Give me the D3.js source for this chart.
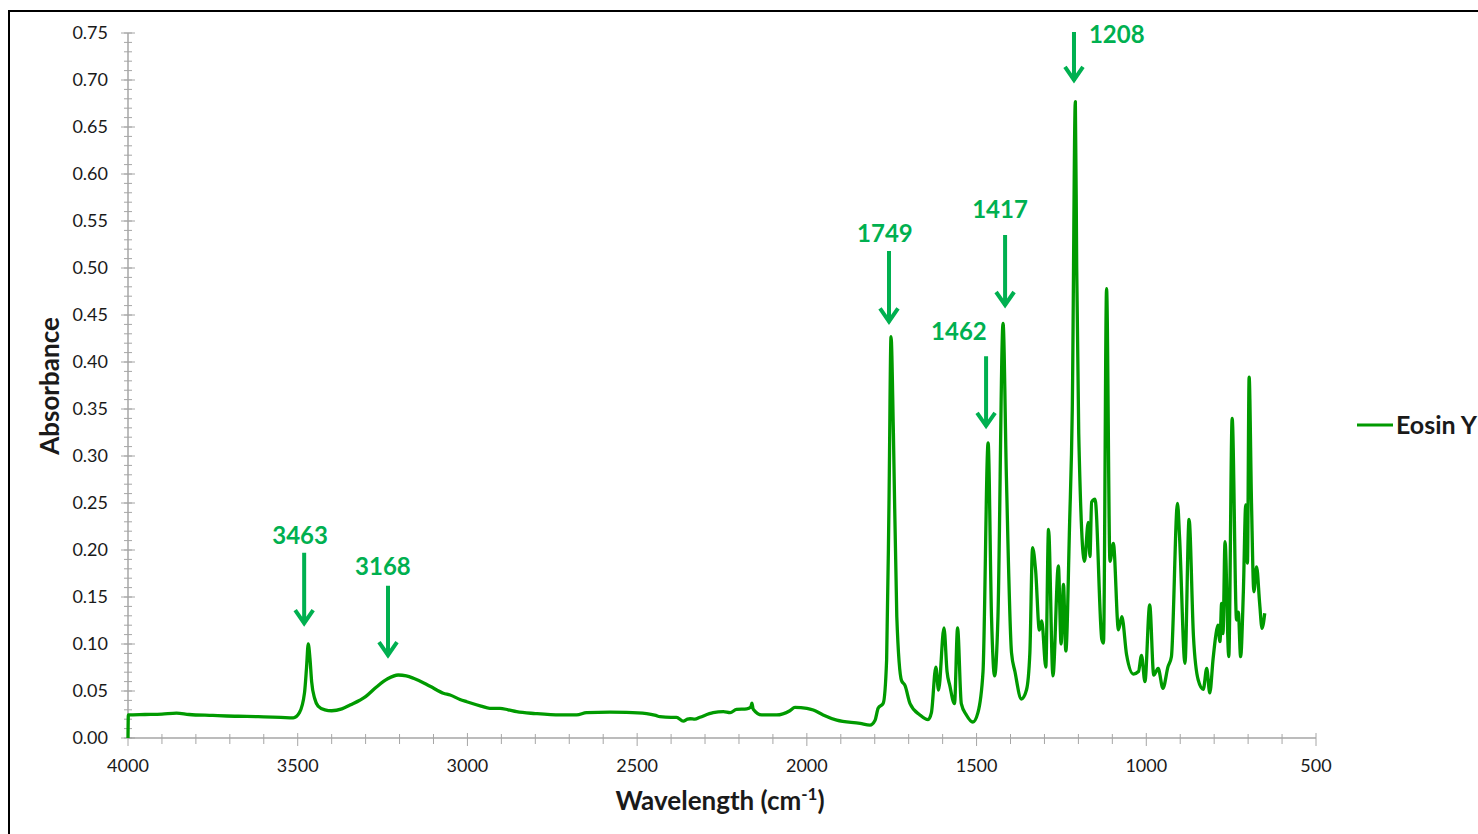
<!DOCTYPE html>
<html>
<head>
<meta charset="utf-8">
<script src="https://cdn.jsdelivr.net/npm/d3@7"></script>
<style>
  body { margin: 0; background: #ffffff; }
  text { font-family: Lato, "Open Sans", sans-serif; }
</style>
</head>
<body>
<div id="chart"></div>
<script>
// spectrum (wavenumber in cm-1, absorbance)
const wavenumbers = [
  4000, 3999, 3950, 3900, 3857, 3820, 3750, 3709, 3650, 3600, 3550, 3513, 3495, 3480, 3474, 3469,
  3464, 3459, 3450, 3440, 3420, 3400, 3370, 3346, 3300, 3267, 3235, 3204, 3180, 3159, 3110, 3071,
  3051, 3022, 3002, 2960, 2934, 2904, 2880, 2855, 2800, 2727, 2678, 2649, 2580, 2531, 2472, 2445,
  2433, 2400, 2384, 2364, 2352, 2344, 2330, 2315, 2276, 2246, 2226, 2207, 2177, 2165, 2162, 2158,
  2133, 2089, 2050, 2035, 2000, 1981, 1952, 1912, 1843, 1814, 1799, 1790, 1775, 1765, 1758, 1752,
  1745, 1735, 1721, 1711, 1696, 1667, 1643, 1633, 1620, 1612, 1596, 1587, 1579, 1565, 1556, 1545,
  1530, 1511, 1496, 1481, 1466, 1456, 1447, 1437, 1422, 1412, 1397, 1387, 1368, 1353, 1343, 1335,
  1326, 1315, 1308, 1296, 1288, 1275, 1259, 1251, 1244, 1237, 1226, 1218, 1209, 1205, 1199, 1182,
  1171, 1166, 1161, 1151, 1131, 1126, 1117, 1107, 1097, 1082, 1072, 1058, 1038, 1023, 1014, 1004,
  990, 978, 965, 951, 936, 926, 908, 902, 886, 874, 861, 847, 832, 822, 813, 803,
  795, 789, 783, 778, 774, 768, 757, 747, 734, 729, 722, 714, 707, 702, 697, 690,
  683, 675, 666, 659, 651
];
const absorbance = [
  0, 0.0245, 0.025, 0.0255, 0.0265, 0.025, 0.024, 0.0234, 0.023, 0.0225, 0.022, 0.0215, 0.027, 0.048, 0.075, 0.100,
  0.085, 0.060, 0.042, 0.034, 0.030, 0.029, 0.031, 0.035, 0.044, 0.0546, 0.063, 0.067, 0.066, 0.0635, 0.055, 0.0476,
  0.0457, 0.041, 0.0386, 0.034, 0.0316, 0.0316, 0.030, 0.028, 0.026, 0.0245, 0.0245, 0.027, 0.0275, 0.0273, 0.026, 0.024,
  0.0227, 0.022, 0.022, 0.018, 0.020, 0.0205, 0.020, 0.022, 0.027, 0.028, 0.027, 0.0305, 0.031, 0.033, 0.037, 0.0305,
  0.0245, 0.0245, 0.029, 0.0326, 0.0316, 0.0298, 0.0245, 0.019, 0.0156, 0.0138, 0.019, 0.0316, 0.037, 0.083, 0.25, 0.427,
  0.324, 0.129, 0.061, 0.056, 0.0366, 0.0245, 0.0195, 0.027, 0.0755, 0.051, 0.117, 0.0707, 0.056, 0.0366, 0.117, 0.0366,
  0.0245, 0.017, 0.027, 0.0707, 0.314, 0.129, 0.066, 0.129, 0.441, 0.276, 0.0905, 0.0707, 0.0415, 0.051, 0.0905, 0.2025,
  0.178, 0.1147, 0.1245, 0.0755, 0.222, 0.066, 0.183, 0.100, 0.1635, 0.0926, 0.227, 0.35, 0.677, 0.50, 0.324, 0.188,
  0.2294, 0.193, 0.251, 0.254, 0.105, 0.101, 0.478, 0.188, 0.207, 0.115, 0.129, 0.0885, 0.068, 0.0707, 0.088, 0.06,
  0.1415, 0.067, 0.074, 0.0529, 0.0759, 0.0865, 0.2497, 0.214, 0.0795, 0.2326, 0.108, 0.0617, 0.0518, 0.074, 0.048, 0.0848,
  0.1096, 0.12, 0.1025, 0.1433, 0.111, 0.209, 0.0865, 0.340, 0.1255, 0.134, 0.0865, 0.1556, 0.248, 0.186, 0.384, 0.2497,
  0.1556, 0.182, 0.1433, 0.1167, 0.1327
];

// peak labels and where their arrows sit
const peakLabels = ["3463", "3168", "1749", "1462", "1417", "1208"];
const arrowWn    = [3481, 3234, 1758, 1472, 1416, 1213];
const arrowTop   = [0.197, 0.162, 0.518, 0.406, 0.535, 0.751];
const arrowTip   = [0.120, 0.086, 0.441, 0.330, 0.4585, 0.698];
const labelWn    = [3493, 3249, 1770, 1552, 1431, 1087];
const labelAbs   = [0.215, 0.182, 0.537, 0.432, 0.562, 0.748];

const seriesName = "Eosin Y";
const xTickValues = [4000, 3500, 3000, 2500, 2000, 1500, 1000, 500];
const yTickValues = d3.range(0, 0.7501, 0.05);

const width = 1478;
const height = 834;
const lineColor = "#009a00";
const noteColor = "#00b050";
const axisColor = "#a6a6a6";

const svg = d3.select("#chart")
  .append("svg")
  .attr("width", width)
  .attr("height", height);

svg.append("rect")
  .attr("x", 9)
  .attr("y", 11)
  .attr("width", width)
  .attr("height", height)
  .attr("fill", "none")
  .attr("stroke", "#000")
  .attr("stroke-width", 2);

const xScale = d3.scaleLinear().domain([4000, 500]).range([128, 1316]);
const yScale = d3.scaleLinear().domain([0, 0.75]).range([738, 33]);

// y axis: cross ticks, minor every 0.01
const yAxisG = svg.append("g");
yAxisG.append("line")
  .attr("x1", xScale(4000)).attr("x2", xScale(4000))
  .attr("y1", yScale(0)).attr("y2", yScale(0.75))
  .attr("stroke", axisColor).attr("stroke-width", 1.5);

yAxisG.selectAll(".yminor")
  .data(d3.range(0, 0.7501, 0.01))
  .enter().append("line")
  .attr("x1", xScale(4000) - 4)
  .attr("x2", xScale(4000) + 4)
  .attr("y1", d => yScale(d))
  .attr("y2", d => yScale(d))
  .attr("stroke", axisColor);

yAxisG.selectAll(".ymajor")
  .data(yTickValues)
  .enter().append("line")
  .attr("x1", xScale(4000) - 7)
  .attr("x2", xScale(4000) + 7)
  .attr("y1", d => yScale(d))
  .attr("y2", d => yScale(d))
  .attr("stroke", axisColor);

yAxisG.selectAll("text")
  .data(yTickValues)
  .enter().append("text")
  .attr("x", 108)
  .attr("y", d => yScale(d))
  .attr("dy", "0.35em")
  .attr("text-anchor", "end")
  .attr("font-size", 18)
  .attr("fill", "#1a1a1a")
  .text(d => d.toFixed(2));

// x axis: minor every 100
const xAxisG = svg.append("g");
xAxisG.append("line")
  .attr("x1", xScale(4000)).attr("x2", xScale(500))
  .attr("y1", yScale(0)).attr("y2", yScale(0))
  .attr("stroke", axisColor).attr("stroke-width", 1.5);

xAxisG.selectAll(".xtick")
  .data(d3.range(4000, 499, -100))
  .enter().append("line")
  .attr("x1", d => xScale(d))
  .attr("x2", d => xScale(d))
  .attr("y1", d => yScale(0) + (d % 500 === 0 ? -5 : -4))
  .attr("y2", d => yScale(0) + (d % 500 === 0 ? 8 : 6))
  .attr("stroke", axisColor);

xAxisG.selectAll("text")
  .data(xTickValues)
  .enter().append("text")
  .attr("x", d => xScale(d))
  .attr("y", 772)
  .attr("text-anchor", "middle")
  .attr("font-size", 18)
  .attr("fill", "#1a1a1a")
  .text(d => d);

// axis titles
const xTitle = svg.append("text")
  .attr("x", 720)
  .attr("y", 810)
  .attr("text-anchor", "middle")
  .attr("font-size", 26)
  .attr("font-weight", "bold")
  .attr("fill", "#1a1a1a");
xTitle.append("tspan").text("Wavelength (cm");
xTitle.append("tspan").attr("font-size", 17).attr("dy", -10).text("-1");
xTitle.append("tspan").attr("dy", 10).text(")");

svg.append("text")
  .attr("transform", "translate(59, 386) rotate(-90)")
  .attr("text-anchor", "middle")
  .attr("font-size", 26)
  .attr("font-weight", "bold")
  .attr("fill", "#1a1a1a")
  .text("Absorbance");

// spectrum
const spectrum = wavenumbers.map((w, i) => [w, absorbance[i]]);
const line = d3.line()
  .x(d => xScale(d[0]))
  .y(d => yScale(d[1]))
  .curve(d3.curveMonotoneX);

svg.append("path")
  .datum(spectrum)
  .attr("d", line)
  .attr("fill", "none")
  .attr("stroke", lineColor)
  .attr("stroke-width", 3.3)
  .attr("stroke-linejoin", "round");

// peak arrows
const notes = peakLabels.map((t, i) => ({
  text: t, wn: arrowWn[i], top: arrowTop[i], tip: arrowTip[i], lx: labelWn[i], ly: labelAbs[i]
}));

const noteG = svg.append("g");
noteG.selectAll("path")
  .data(notes)
  .enter().append("path")
  .attr("d", d => {
    const x = xScale(d.wn);
    const y0 = yScale(d.top);
    const y1 = yScale(d.tip);
    return `M${x},${y0}L${x},${y1 - 1}M${x - 9},${y1 - 15}L${x},${y1 - 2}L${x + 9},${y1 - 15}`;
  })
  .attr("fill", "none")
  .attr("stroke", noteColor)
  .attr("stroke-width", 4);

noteG.selectAll("text")
  .data(notes)
  .enter().append("text")
  .attr("x", d => xScale(d.lx))
  .attr("y", d => yScale(d.ly))
  .attr("dy", "0.35em")
  .attr("text-anchor", "middle")
  .attr("font-size", 24)
  .attr("font-weight", "bold")
  .attr("fill", noteColor)
  .text(d => d.text);

// legend
const legend = svg.append("g").attr("transform", "translate(1357, 425)");
legend.append("line")
  .attr("x1", 0).attr("x2", 36)
  .attr("stroke", lineColor)
  .attr("stroke-width", 3);
legend.append("text")
  .attr("x", 39)
  .attr("dy", "0.35em")
  .attr("font-size", 25)
  .attr("font-weight", "bold")
  .attr("fill", "#1a1a1a")
  .text(seriesName);
</script>
</body>
</html>
